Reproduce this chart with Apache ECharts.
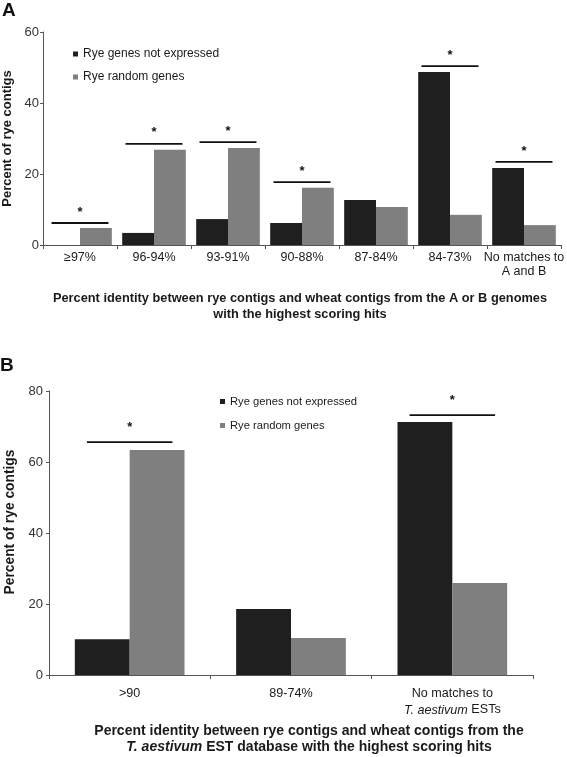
<!DOCTYPE html>
<html>
<head>
<meta charset="utf-8">
<script src="https://cdn.jsdelivr.net/npm/echarts@6/dist/echarts.min.js"></script>
<style>html,body{margin:0;padding:0;background:#fff}#c{width:567px;height:757px}</style>
</head>
<body>
<div id="c"></div>
<script>
// ---- Data ----
const seriesNames = ['Rye genes not expressed', 'Rye random genes'];

const catsA = ['≥97%', '96-94%', '93-91%', '90-88%', '87-84%', '84-73%', 'No matches to\nA and B'];
const notExpressedA = [0, 3.4, 7.3, 6.2, 12.7, 48.7, 21.7];
const randomA = [4.8, 26.8, 27.3, 16.1, 10.7, 8.5, 5.6];
const sigCatsA = ['≥97%', '96-94%', '93-91%', '90-88%', '84-73%', 'No matches to\nA and B'];
const sigLevelA = [6.2, 28.5, 29.0, 17.7, 50.4, 23.4];
const yTicksA = [0, 20, 40, 60];

const catsB = ['>90', '89-74%', 'No matches to\nT. aestivum ESTs'];
const notExpressedB = [10.1, 18.6, 71.3];
const randomB = [63.4, 10.4, 25.9];
const sigCatsB = ['>90', 'No matches to\nT. aestivum ESTs'];
const sigLevelB = [65.6, 73.2];
const yTicksB = [0, 20, 40, 60, 80];

// ---- Styles ----
const FONT = '"Liberation Sans", Arial, sans-serif';
const BLACK = '#1f1f1f';
const GRAY = '#7f7f7f';
const TXT = '#1a1a1a';
const AX = '#555';

function sigRender(frac, starOff) {
  return function (params, api) {
    const p = api.coord([api.value(0), api.value(1)]);
    const w = api.size([1, 0])[0] * frac;
    return {
      type: 'group',
      children: [
        { type: 'line', shape: { x1: p[0] - w / 2, y1: p[1], x2: p[0] + w / 2, y2: p[1] },
          style: { stroke: '#111', lineWidth: 1.8 } },
        { type: 'text', x: p[0], y: p[1] - starOff,
          style: { text: '*', font: 'bold 13px ' + FONT, textAlign: 'center', textVerticalAlign: 'middle', fill: '#111' } }
      ]
    };
  };
}

function yAxisCfg(gridIndex, ticks, nameGap, nameSize, labelMargin, namePad) {
  return {
    gridIndex: gridIndex, type: 'value', min: ticks[0], max: ticks[ticks.length - 1], interval: ticks[1] - ticks[0],
    name: 'Percent of rye contigs', nameLocation: 'middle', nameGap: nameGap,
    nameTextStyle: { fontFamily: FONT, fontWeight: 'bold', fontSize: nameSize, color: TXT, padding: namePad },
    axisLine: { show: true, lineStyle: { color: AX, width: 1 } },
    axisTick: { show: true, length: 3, lineStyle: { color: AX } },
    axisLabel: { fontFamily: FONT, fontSize: 13, color: '#333', margin: labelMargin },
    splitLine: { show: false }
  };
}

const chart = echarts.init(document.getElementById('c'), null, { renderer: 'canvas' });
chart.setOption({
  backgroundColor: '#fff',
  animation: false,
  grid: [
    { left: 43, right: 6, top: 32, height: 213, containLabel: false, outerBoundsMode: 'none' },
    { left: 49, right: 34, top: 391, height: 284, containLabel: false, outerBoundsMode: 'none' }
  ],
  legend: [
    { data: seriesNames, orient: 'vertical', left: 68, top: 43, itemWidth: 5, itemHeight: 5, itemGap: 11,
      icon: 'rect', textStyle: { fontFamily: FONT, fontSize: 12, color: TXT } },
    { data: seriesNames, orient: 'vertical', left: 215, top: 391, itemWidth: 5, itemHeight: 5, itemGap: 13,
      icon: 'rect', textStyle: { fontFamily: FONT, fontSize: 11.2, color: TXT } }
  ],
  xAxis: [
    { gridIndex: 0, type: 'category', data: catsA,
      axisLine: { lineStyle: { color: AX } },
      axisTick: { show: true, length: 4, lineStyle: { color: AX } },
      axisLabel: { fontFamily: FONT, fontSize: 12.5, color: TXT, margin: 6, lineHeight: 14, interval: 0 } },
    { gridIndex: 1, type: 'category', data: catsB,
      axisLine: { lineStyle: { color: AX } },
      axisTick: { show: true, length: 4, lineStyle: { color: AX } },
      axisLabel: { fontFamily: FONT, fontSize: 12.6, color: TXT, margin: 11, lineHeight: 16, interval: 0,
        formatter: function (v) { return v.replace('T. aestivum', '{i|T. aestivum}'); },
        rich: { i: { fontStyle: 'italic', fontFamily: FONT, fontSize: 12.6, color: TXT } } } }
  ],
  yAxis: [ yAxisCfg(0, yTicksA, 22, 13, 4, [0, 0, 0, 0]), yAxisCfg(1, yTicksB, 32, 13.8, 6, [0, 0, 0, 22]) ],
  series: [
    { name: seriesNames[0], type: 'bar', xAxisIndex: 0, yAxisIndex: 0, data: notExpressedA,
      itemStyle: { color: BLACK }, barGap: '0%', barCategoryGap: '14%' },
    { name: seriesNames[1], type: 'bar', xAxisIndex: 0, yAxisIndex: 0, data: randomA,
      itemStyle: { color: GRAY }, barGap: '0%', barCategoryGap: '14%' },
    { name: seriesNames[0], type: 'bar', xAxisIndex: 1, yAxisIndex: 1, data: notExpressedB,
      itemStyle: { color: BLACK }, barGap: '0%', barCategoryGap: '32%' },
    { name: seriesNames[1], type: 'bar', xAxisIndex: 1, yAxisIndex: 1, data: randomB,
      itemStyle: { color: GRAY }, barGap: '0%', barCategoryGap: '32%' },
    { name: 'sigA', type: 'custom', xAxisIndex: 0, yAxisIndex: 0,
      data: sigCatsA.map(function (c, i) { return [c, sigLevelA[i]]; }),
      renderItem: sigRender(0.77, 11), z: 5 },
    { name: 'sigB', type: 'custom', xAxisIndex: 1, yAxisIndex: 1,
      data: sigCatsB.map(function (c, i) { return [c, sigLevelB[i]]; }),
      renderItem: sigRender(0.53, 15), z: 5 }
  ],
  graphic: [
    { type: 'text', left: 2, top: 1, style: { text: 'A', font: 'bold 19px ' + FONT, fill: '#111' } },
    { type: 'text', left: 0, top: 356, style: { text: 'B', font: 'bold 19px ' + FONT, fill: '#111' } },
    { type: 'text', x: 300, y: 290,
      style: { text: 'Percent identity between rye contigs and wheat contigs from the A or B genomes\nwith the highest scoring hits',
        font: 'bold 12.8px ' + FONT, fill: TXT, textAlign: 'center', lineHeight: 16 } },
    { type: 'text', x: 309, y: 723,
      style: { text: '{n|Percent identity between rye contigs and wheat contigs from the}\n{i|T. aestivum}{n| EST database with the highest scoring hits}',
        fill: TXT, textAlign: 'center',
        rich: { n: { font: 'bold 14px ' + FONT, fill: TXT, lineHeight: 16 },
                i: { font: 'italic bold 14px ' + FONT, fill: TXT, lineHeight: 16 } } } }
  ]
});
</script>
</body>
</html>
